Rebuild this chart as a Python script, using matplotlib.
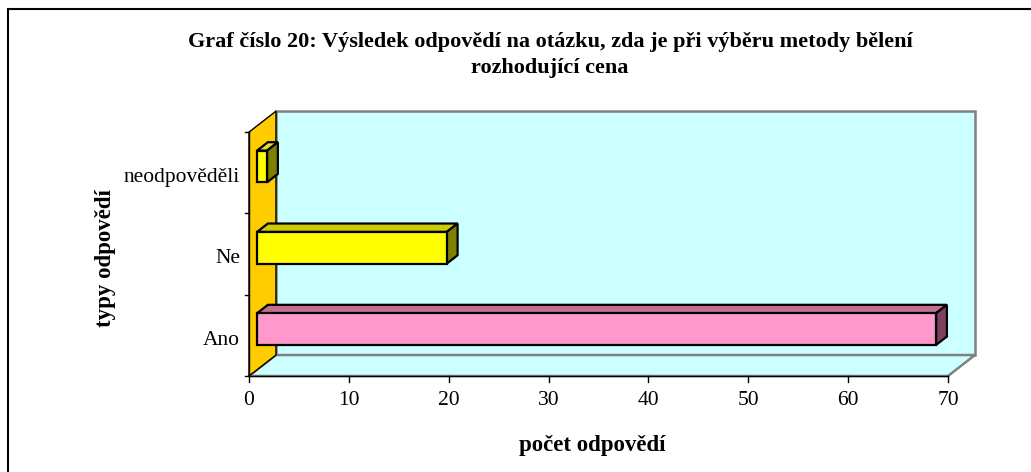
import matplotlib.pyplot as plt
from matplotlib.patches import Polygon, Rectangle

# data
categories = ['Ano', 'Ne', 'neodpověděli']
values = [68, 19, 1]
xticks = [0, 10, 20, 30, 40, 50, 60, 70]

title = 'Graf číslo 20: Výsledek odpovědí na otázku, zda je při výběru metody bělení\nrozhodující cena'
xlabel = 'počet odpovědí'
ylabel = 'typy odpovědí'

front_cols = ['#FF99CC', '#FFFF00', '#FFFF00']
top_cols = ['#C07090', '#CCCC00', '#DDDD33']
side_cols = ['#804060', '#808000', '#808000']

plt.rcParams['font.family'] = ['Liberation Serif', 'DejaVu Serif']

XMAX = 70
DX = 2.7     # depth offset in value units
DY = 0.258   # depth offset in category units
BAR_H = 0.39
D0, D1 = 0.3, 0.7  # bar depth range (fraction of full depth)
FS = 15.5


def proj(v, c, d):
    # project a (value, category, depth) point onto the 2D axes
    return (v + d * DX, c + d * DY)


fig = plt.figure(figsize=(10.31, 4.72), dpi=100)
# outer frame
fig.patches.append(Rectangle((8 / 1031, -0.1), 1.2, (472 - 9) / 472 + 0.1,
                             transform=fig.transFigure, fill=False,
                             edgecolor='black', lw=1.5))

ax = fig.add_axes([249 / 1031, 96 / 472, (XMAX + DX) * 699 / 70 / 1031,
                   (3 + DY) * 81.3 / 472])
ax.set_xlim(0, XMAX + DX)
ax.set_ylim(-0.5, 2.5 + DY)
ax.axis('off')

lo, hi = -0.5, 2.5
# back wall
ax.add_patch(Polygon([proj(0, lo, 1), proj(XMAX, lo, 1), proj(XMAX, hi, 1), proj(0, hi, 1)],
                     closed=True, facecolor='#CCFFFF', edgecolor='#808080', lw=1.8, clip_on=False))
# floor
ax.add_patch(Polygon([proj(0, lo, 0), proj(XMAX, lo, 0), proj(XMAX, lo, 1), proj(0, lo, 1)],
                     closed=True, facecolor='#CCFFFF', edgecolor='#808080', lw=1.8, clip_on=False))
# left wall
ax.add_patch(Polygon([proj(0, lo, 0), proj(0, hi, 0), proj(0, hi, 1), proj(0, lo, 1)],
                     closed=True, facecolor='#FFCC00', edgecolor='black', lw=1.0, clip_on=False))

# bars
for i, (cat, val) in enumerate(zip(categories, values)):
    b, t = i - BAR_H / 2, i + BAR_H / 2
    front = [proj(0, b, D0), proj(val, b, D0), proj(val, t, D0), proj(0, t, D0)]
    top = [proj(0, t, D0), proj(val, t, D0), proj(val, t, D1), proj(0, t, D1)]
    side = [proj(val, b, D0), proj(val, b, D1), proj(val, t, D1), proj(val, t, D0)]
    ax.add_patch(Polygon(top, closed=True, facecolor=top_cols[i], edgecolor='black', lw=1.6, clip_on=False))
    ax.add_patch(Polygon(side, closed=True, facecolor=side_cols[i], edgecolor='black', lw=1.6, clip_on=False))
    ax.add_patch(Polygon(front, closed=True, facecolor=front_cols[i], edgecolor='black', lw=1.6, clip_on=False))

# front axes lines
ax.plot([0, XMAX], [lo, lo], color='black', lw=1.0, clip_on=False)
ax.plot([0, 0], [lo, hi], color='black', lw=1.0, clip_on=False)

# x ticks and labels
tick_dy = 6 / 81.3
for xt in xticks:
    ax.plot([xt, xt], [lo, lo - tick_dy], color='black', lw=1.0, clip_on=False)
    ax.text(xt, lo - 0.3, str(xt), ha='center', va='center', fontsize=FS)

# y ticks (category boundaries) and labels
for yb in [-0.5, 0.5, 1.5, 2.5]:
    ax.plot([0, -0.45], [yb, yb], color='black', lw=1.0, clip_on=False)
for i, cat in enumerate(categories):
    ax.text(-0.9, i - 0.06, cat, ha='right', va='center', fontsize=FS)

fig.text(550 / 1031, 1 - 55 / 472, title, ha='center', va='center',
         fontsize=16, fontweight='bold', linespacing=1.45)
fig.text(592 / 1031, 1 - 445 / 472, xlabel, ha='center', va='center',
         fontsize=16.5, fontweight='bold')
fig.text(106 / 1031, 1 - 258 / 472, ylabel, ha='center', va='center',
         fontsize=16.5, fontweight='bold', rotation=90)

fig.savefig('out.png', dpi=100)
